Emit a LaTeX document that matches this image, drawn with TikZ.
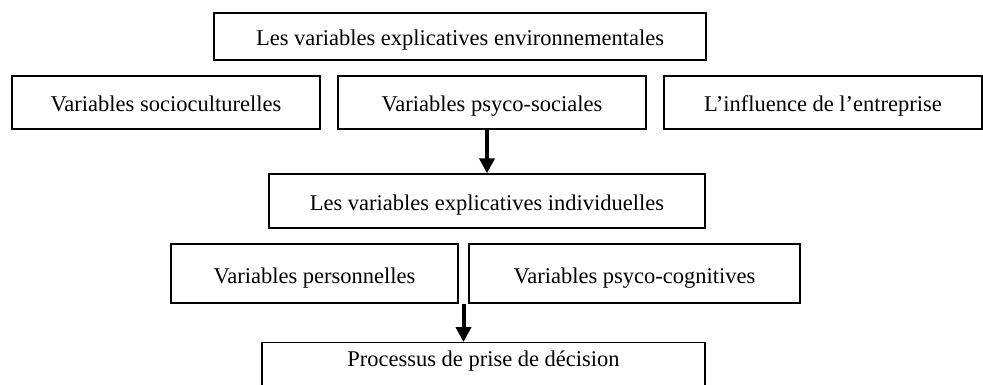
\documentclass[tikz,border=0pt]{standalone}
\usepackage{fontspec}
\setmainfont{Liberation Serif}
\usetikzlibrary{arrows.meta,calc}
\begin{document}
\begin{tikzpicture}[x=1pt,y=-1pt,
  boite/.style={draw=black,line width=1.3pt,inner sep=0pt,text height=19pt,text depth=0pt,font=\fontsize{22.5}{27}\selectfont},
  fleche/.style={-{Triangle[length=15pt,width=15pt]},line width=4pt}]
\useasboundingbox (0,0) rectangle (983,385);
\clip (0,0) rectangle (983,385);
\node [boite,minimum width=492,minimum height=47] (env) at (460,36.5) {Les variables explicatives environnementales};
\node [boite,minimum width=308,minimum height=53] (socio) at (166,102.5) {Variables socioculturelles};
\node [boite,minimum width=308,minimum height=53] (psysoc) at (492,102.5) {Variables psyco-sociales};
\node [boite,minimum width=318,minimum height=53] (influ) at (823,102.5) {L’influence de l’entreprise};
\node [boite,minimum width=436,minimum height=54] (indiv) at (487,201) {Les variables explicatives individuelles};
\node [boite,minimum width=287,minimum height=59] (perso) at (314.5,273.5) {Variables personnelles};
\node [boite,minimum width=331,minimum height=59] (cogn) at (634.5,273.5) {Variables psyco-cognitives};
\node [boite,minimum width=443,anchor=north,inner ysep=5pt,text depth=40pt] (proc) at (483.5,342) {Processus de prise de décision};
\coordinate (entre) at ($(perso.south east)!0.5!(cogn.south west)$);
\draw [fleche] (psysoc.south -| indiv.north) -- (indiv.north);
\draw [fleche] (entre) -- (entre |- proc.north);
\end{tikzpicture}
\end{document}
